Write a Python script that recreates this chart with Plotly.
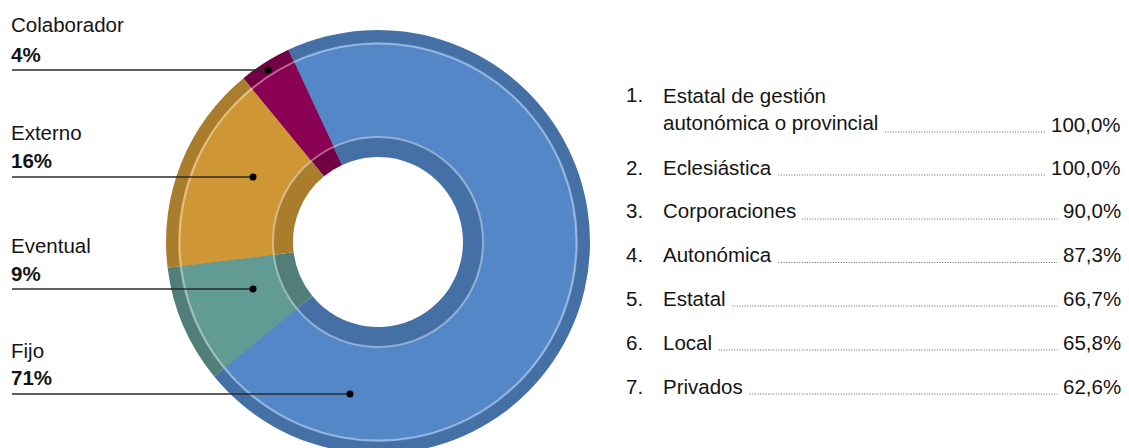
import plotly.graph_objects as go

# ---------------- data ----------------
categories = ["Fijo", "Eventual", "Externo", "Colaborador"]
shares = [71, 9, 16, 4]

rank_labels = ["Estatal de gestión<br>autonómica o provincial", "Eclesiástica",
               "Corporaciones", "Autonómica", "Estatal", "Local", "Privados"]
rank_values = ["100,0%", "100,0%", "90,0%", "87,3%", "66,7%", "65,8%", "62,6%"]

# ---------------- style ----------------
W, H = 1129, 454            # window shows the top 448 px; the donut bottom is cropped as in the original
FONT = "Liberation Sans, Arial, Helvetica, sans-serif"
FS = 20.5
TXT = "#141414"
main_colors = ["#5487C7", "#629A94", "#CF9636", "#8A0052"]
dark_colors = ["#4470A5", "#527E7A", "#A97D2C", "#700043"]

cx, cy = 378, 242          # donut centre (px, from top)
R_out, R_mid_out, R_mid_in, R_hole = 212, 200, 105, 85


def px(x):
    return x / W


def py(y):
    return 1 - y / H


def dom(r):
    return dict(x=[px(cx - r), px(cx + r)], y=[max(0, py(cy + r)), min(1, py(cy - r))])


fig = go.Figure()
fig.add_trace(go.Pie(labels=categories, values=shares, sort=False, direction="clockwise",
                     rotation=-25, hole=R_hole / R_out, domain=dom(R_out),
                     marker=dict(colors=dark_colors, line=dict(width=0)),
                     textinfo="none", hoverinfo="skip", showlegend=False))
fig.add_trace(go.Pie(labels=categories, values=shares, sort=False, direction="clockwise",
                     rotation=-25, hole=R_mid_in / R_mid_out, domain=dom(R_mid_out),
                     marker=dict(colors=main_colors, line=dict(width=0)),
                     textinfo="none", hoverinfo="skip", showlegend=False))

shapes = []
# light rings
for r in (R_mid_out - 1.5, R_mid_in):
    shapes.append(dict(type="circle", xref="paper", yref="paper",
                       x0=px(cx - r), x1=px(cx + r), y0=py(cy + r), y1=py(cy - r),
                       line=dict(color="rgba(255,255,255,0.4)", width=2), layer="above"))

# left callouts: name, percentage, leader line and dot
callout_name_y = [350, 245, 132.5, 24.5]
callout_pct_y = [377, 273, 160, 54.5]
callout_line_y = [394, 289, 177, 70]
callout_dot_x = [350, 253, 253, 268]
annotations = []
for i, cat in enumerate(categories):
    annotations.append(dict(x=px(9), y=py(callout_name_y[i]), xref="paper", yref="paper",
                            text=cat, showarrow=False, xanchor="left", yanchor="middle",
                            font=dict(family=FONT, size=FS, color=TXT)))
    annotations.append(dict(x=px(9), y=py(callout_pct_y[i]), xref="paper", yref="paper",
                            text=f"<b>{shares[i]}%</b>", showarrow=False, xanchor="left",
                            yanchor="middle", font=dict(family=FONT, size=FS, color=TXT)))
    shapes.append(dict(type="line", xref="paper", yref="paper",
                       x0=px(12), x1=px(callout_dot_x[i]), y0=py(callout_line_y[i]),
                       y1=py(callout_line_y[i]), line=dict(color="#2a2a2a", width=1.5),
                       layer="above"))
    d = 3.5
    shapes.append(dict(type="circle", xref="paper", yref="paper",
                       x0=px(callout_dot_x[i] - d), x1=px(callout_dot_x[i] + d),
                       y0=py(callout_line_y[i] + d), y1=py(callout_line_y[i] - d),
                       fillcolor="#000", line=dict(width=0), layer="above"))

# right ranking list
row_y = [124, 167, 211, 254.5, 298, 342, 386]   # cap-centre of the line holding the value
x_num, x_lab, x_val = 624, 657, 1127
line_gap = 29
for i, (lab, val) in enumerate(zip(rank_labels, rank_values)):
    y = row_y[i]
    nlines = lab.count("<br>") + 1
    lab_y = y - (nlines - 1) * line_gap / 2
    num_y = y - (nlines - 1) * line_gap
    # dotted leader
    shapes.append(dict(type="line", xref="paper", yref="paper",
                       x0=px(x_lab + 20), x1=px(x_val - 20), y0=py(y + 8), y1=py(y + 8),
                       line=dict(color="#666", width=1, dash="1px,1.6px"), layer="above"))
    annotations.append(dict(x=px(x_num), y=py(num_y), xref="paper", yref="paper",
                            text=f"{i + 1}.", showarrow=False, xanchor="left", yanchor="middle",
                            font=dict(family=FONT, size=FS, color=TXT)))
    annotations.append(dict(x=px(x_lab), y=py(lab_y), xref="paper", yref="paper",
                            text=lab, showarrow=False, xanchor="left", yanchor="middle",
                            align="left", bgcolor="white", borderpad=5,
                            font=dict(family=FONT, size=FS, color=TXT)))
    annotations.append(dict(x=px(x_val), y=py(y), xref="paper", yref="paper",
                            text=val, showarrow=False, xanchor="right", yanchor="middle",
                            bgcolor="white", borderpad=5,
                            font=dict(family=FONT, size=FS, color=TXT)))

fig.update_layout(width=W, height=H, margin=dict(l=0, r=0, t=0, b=0),
                  paper_bgcolor="white", plot_bgcolor="white",
                  shapes=shapes, annotations=annotations,
                  xaxis=dict(visible=False), yaxis=dict(visible=False))
fig.write_html("out.html", config={"displayModeBar": False},
               post_script="document.body.style.margin='0';document.body.style.overflow='hidden';")
